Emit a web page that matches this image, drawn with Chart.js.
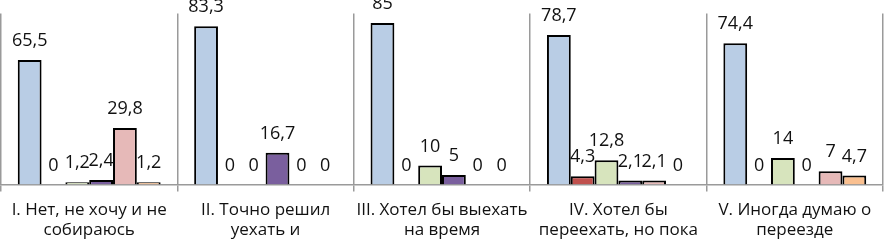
<!DOCTYPE html>
<html>
<head>
<meta charset="utf-8">
<script src="https://cdn.jsdelivr.net/npm/chart.js@4"></script>
<style>
  html, body { margin: 0; padding: 0; background: #fff; }
  #wrap { width: 884px; height: 240px; }
</style>
</head>
<body>
<div id="wrap"><canvas id="chart" width="884" height="240"></canvas></div>
<script>
// категории (подписи обрезаны, как на исходной картинке)
const categories = [
    ['I. Нет, не хочу и не', 'собираюсь'],
    ['II. Точно решил', 'уехать и'],
    ['III. Хотел бы выехать', 'на время'],
    ['IV. Хотел бы', 'переехать, но пока'],
    ['V. Иногда думаю о', 'переезде']
];

const series1 = [65.5, 83.3, 85, 78.7, 74.4];
const series2 = [0, 0, 0, 4.3, 0];
const series3 = [1.2, 0, 10, 12.8, 14];
const series4 = [2.4, 16.7, 5, 2.1, 0];
const series5 = [29.8, 0, 0, 2.1, 7];
const series6 = [1.2, 0, 0, 0, 4.7];

const colors = ['#B9CDE5', '#C0504D', '#D7E4BD', '#7A5F9E', '#E6B9B8', '#FAC090'];
const allSeries = [series1, series2, series3, series4, series5, series6];

const fmt = v => String(v).replace('.', ',');

// подписи значений над столбцами
const valueLabels = {
    id: 'valueLabels',
    afterDatasetsDraw(chart) {
        const ctx = chart.ctx;
        ctx.save();
        ctx.font = '18px "Open Sans", sans-serif';
        ctx.fillStyle = '#111';
        ctx.textAlign = 'center';
        ctx.textBaseline = 'bottom';
        chart.data.datasets.forEach((ds, i) => {
            chart.getDatasetMeta(i).data.forEach((bar, j) => {
                ctx.fillText(fmt(ds.data[j]), bar.x, bar.y - 10);
            });
        });
        ctx.restore();
    }
};

const chart = new Chart(document.getElementById('chart').getContext('2d'), {
    type: 'bar',
    data: {
        labels: categories,
        datasets: allSeries.map((data, i) => ({
            data: data,
            backgroundColor: colors[i],
            borderColor: '#000',
            borderWidth: c => (c.raw === 0 ? 0 : 2),
            categoryPercentage: 0.81,
            barPercentage: 1,
        })),
    },
    options: {
        responsive: false,
        animation: false,
        layout: { padding: { left: 1, right: 1, top: 13.5, bottom: 0 } },
        plugins: {
            legend: { display: false },
            tooltip: { enabled: false },
        },
        scales: {
            x: {
                afterFit: scale => { scale.height = 55.5; },
                grid: {
                    offset: true,
                    color: '#9a9a9a',
                    lineWidth: 1.5,
                    tickLength: 7,
                },
                border: { color: '#9a9a9a', width: 1.5 },
                ticks: {
                    color: '#111',
                    font: { family: '"Open Sans", sans-serif', size: 17, lineHeight: 1.2 },
                    padding: 8,
                    maxRotation: 0,
                    autoSkip: false,
                },
            },
            y: {
                display: false,
                min: 0,
                max: 90,
            },
        },
    },
    plugins: [valueLabels],
});
</script>
</body>
</html>
